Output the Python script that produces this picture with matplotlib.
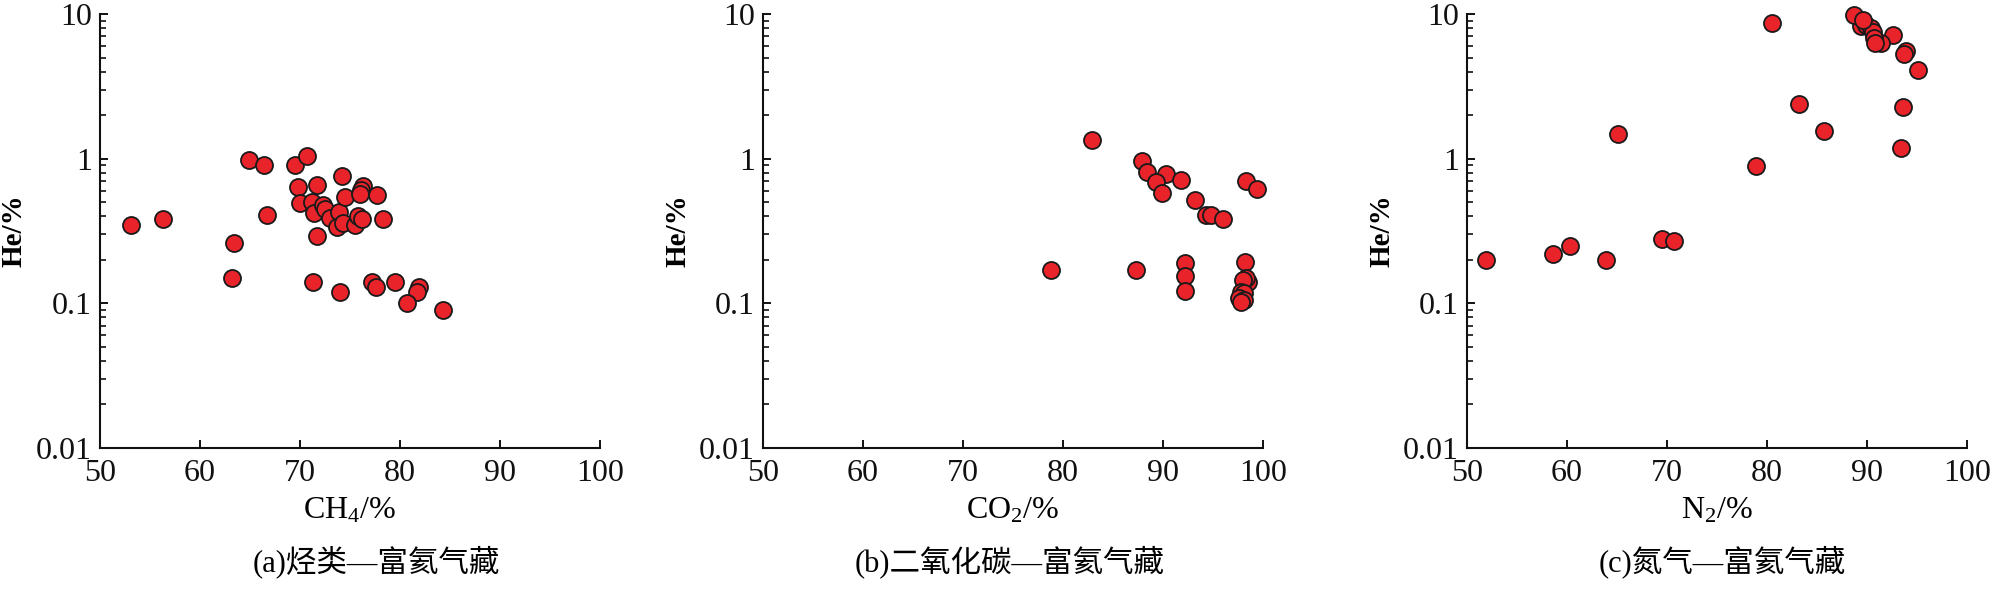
import matplotlib
matplotlib.use("Agg")
import matplotlib.pyplot as plt
from matplotlib.ticker import LogLocator, FixedLocator, NullFormatter

# ---------------- data ----------------
ch4_x = [53.1, 56.3, 63.4, 63.2, 64.9, 66.4, 66.7, 69.5, 70.7, 69.8, 71.7, 74.2,
         70.0, 71.2, 71.4, 72.3, 72.5, 73.0, 73.9, 73.7, 74.3, 74.5, 75.5, 75.8,
         76.2, 76.3, 76.1, 76.0, 77.7, 78.3, 71.7, 71.3, 74.0, 77.2, 77.6, 79.5,
         81.9, 81.7, 80.7, 84.3]
ch4_he = [0.35, 0.38, 0.26, 0.15, 0.98, 0.91, 0.41, 0.91, 1.04, 0.64, 0.66, 0.76,
          0.49, 0.50, 0.42, 0.48, 0.45, 0.39, 0.43, 0.335, 0.36, 0.54, 0.35, 0.40,
          0.38, 0.65, 0.61, 0.57, 0.56, 0.38, 0.29, 0.14, 0.12, 0.14, 0.13, 0.14,
          0.13, 0.12, 0.10, 0.09]

co2_x = [82.9, 87.9, 88.4, 90.3, 89.3, 91.8, 89.9, 93.2, 94.3, 94.8, 96.0, 98.3,
         99.4, 78.8, 87.3, 92.2, 92.2, 92.2, 98.2, 98.5, 98.3, 98.0, 97.8, 98.1,
         97.6, 98.1, 97.8]
co2_he = [1.35, 0.96, 0.81, 0.78, 0.69, 0.71, 0.575, 0.52, 0.41, 0.41, 0.38, 0.70,
          0.62, 0.17, 0.17, 0.19, 0.155, 0.122, 0.194, 0.14, 0.149, 0.145, 0.12, 0.118,
          0.108, 0.105, 0.102]

n2_x = [51.9, 58.6, 60.3, 63.9, 65.1, 69.5, 70.7, 78.9, 80.5, 83.2, 85.7, 93.4,
        93.6, 95.1, 93.9, 93.7, 92.6, 89.4, 89.9, 90.4, 90.6, 91.4, 90.7, 88.7,
        89.6, 90.8]
n2_he = [0.20, 0.22, 0.25, 0.20, 1.48, 0.28, 0.27, 0.89, 8.6, 2.37, 1.55, 1.19,
         2.29, 4.08, 5.55, 5.26, 7.16, 8.2, 8.4, 8.0, 7.5, 6.3, 6.8, 9.84,
         9.1, 6.27]

x_labels = ["CH$_4$/%", "CO$_2$/%", "N$_2$/%"]
captions = ["(a)烃类—富氦气藏", "(b)二氧化碳—富氦气藏", "(c)氮气—富氦气藏"]
x_ticks = [50, 60, 70, 80, 90, 100]
y_ticks = [0.01, 0.1, 1, 10]
y_ticklabels = ["0.01", "0.1", "1", "10"]

# ---------------- style ----------------
plt.rcParams['font.family'] = ['Liberation Serif', 'Noto Sans CJK SC']
plt.rcParams['mathtext.fontset'] = 'custom'
plt.rcParams['mathtext.rm'] = 'Liberation Serif'
plt.rcParams['mathtext.it'] = 'Liberation Serif:italic'

W, H = 1995, 591
fig = plt.figure(figsize=(W / 100, H / 100), dpi=100)

lefts = [100, 763, 1467]
ax_w = 500
ax_top, ax_bot = 14, 448
cap_cx = [376, 1010, 1722]

series = [(ch4_x, ch4_he), (co2_x, co2_he), (n2_x, n2_he)]

for i in range(3):
    ax = fig.add_axes([lefts[i] / W, (H - ax_bot) / H, ax_w / W, (ax_bot - ax_top) / H])
    xs, ys = series[i]
    ax.scatter(xs, ys, s=150, c='#E8232A', edgecolors='#1a1a1a', linewidths=1.3,
               zorder=3, clip_on=False)
    ax.set_yscale('log')
    ax.set_xlim(50, 100)
    ax.set_ylim(0.01, 10)
    for sp in ['top', 'right']:
        ax.spines[sp].set_visible(False)
    for sp in ['left', 'bottom']:
        ax.spines[sp].set_linewidth(1.5)
        ax.spines[sp].set_color('#111111')
    ax.xaxis.set_major_locator(FixedLocator(x_ticks))
    ax.set_xticklabels([str(t) for t in x_ticks])
    ax.yaxis.set_major_locator(FixedLocator(y_ticks))
    ax.set_yticklabels(y_ticklabels)
    ax.yaxis.set_minor_locator(LogLocator(base=10, subs=range(2, 10)))
    ax.yaxis.set_minor_formatter(NullFormatter())
    ax.tick_params(axis='both', which='major', direction='in', length=6, width=1.4,
                   labelsize=23, colors='#111111')
    ax.tick_params(axis='x', which='major', pad=8)
    ax.tick_params(axis='y', which='major', pad=6)
    ax.tick_params(axis='y', which='minor', direction='in', length=4.5, width=1.2,
                   colors='#111111')
    ax.set_xlabel(x_labels[i], fontsize=23, labelpad=6)
    ax.set_ylabel("He/%", fontsize=21, fontweight='bold')
    ax.yaxis.set_label_coords(-0.144, 0.5)
    fig.text(cap_cx[i] / W, 1 - 562 / H, captions[i], fontsize=22,
             ha='center', va='center')

fig.savefig("out.png", dpi=100)
